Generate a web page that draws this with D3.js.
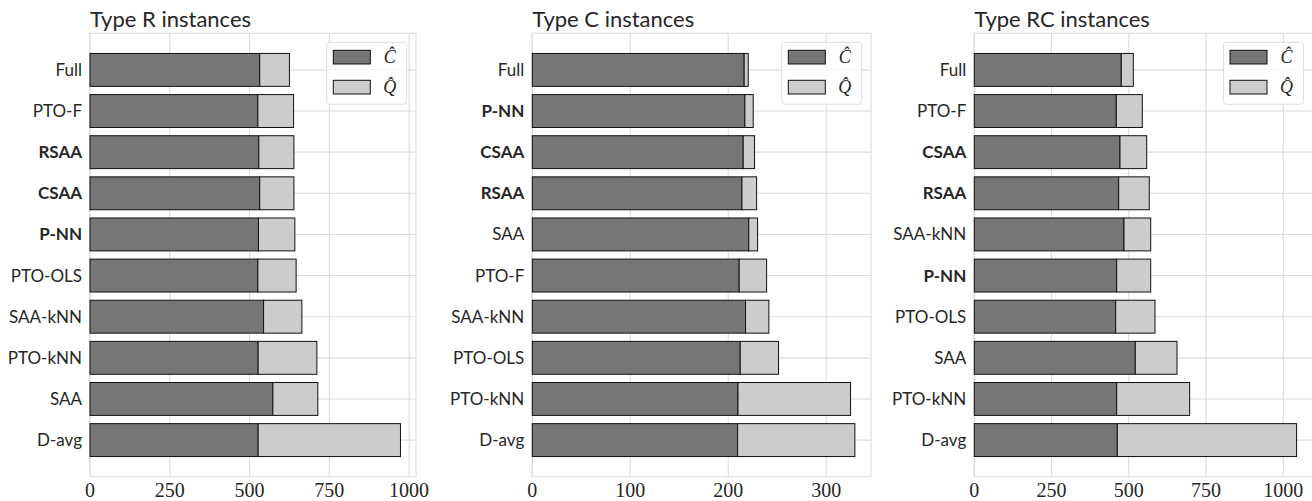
<!DOCTYPE html>
<html>
<head>
<meta charset="utf-8">
<script src="https://cdn.jsdelivr.net/npm/d3@7"></script>
<style>
  body { margin: 0; background: #fff; }
  svg { display: block; }
</style>
</head>
<body>
<div id="chart"></div>
<script>
// panel titles and tick labels
const panelTitles = ["Type R instances", "Type C instances", "Type RC instances"]
const ticksR = [0, 250, 500, 750, 1000]
const ticksC = [0, 100, 200, 300]
const ticksRC = [0, 250, 500, 750, 1000]
const boldMethods = ["RSAA", "CSAA", "P-NN"]

// Type R
const methodsR = ["Full", "PTO-F", "RSAA", "CSAA", "P-NN", "PTO-OLS", "SAA-kNN", "PTO-kNN", "SAA", "D-avg"]
const cHatR = [532, 526, 529, 532, 528, 526, 544, 527, 573, 527]
const qHatR = [93, 112, 110, 107, 114, 120, 120, 184, 141, 446]

// Type C
const methodsC = ["Full", "P-NN", "CSAA", "RSAA", "SAA", "PTO-F", "SAA-kNN", "PTO-OLS", "PTO-kNN", "D-avg"]
const cHatC = [216.3, 217, 215.3, 214, 221, 211.2, 217.7, 212.3, 210, 209.6]
const qHatC = [4.1, 8.5, 11.6, 15, 9, 28, 23.8, 39.1, 114.9, 119.7]

// Type RC
const methodsRC = ["Full", "PTO-F", "CSAA", "RSAA", "SAA-kNN", "P-NN", "PTO-OLS", "SAA", "PTO-kNN", "D-avg"]
const cHatRC = [475.7, 459.6, 471.5, 467.2, 484.5, 460.8, 457.6, 521, 460.8, 462.8]
const qHatRC = [38.9, 84.1, 86.4, 99.1, 86.4, 110.1, 127.2, 135, 236.2, 580.2]

const panels = [
    {title: panelTitles[0], methods: methodsR, c: cHatR, q: qHatR, ticks: ticksR, left: 90, width: 326},
    {title: panelTitles[1], methods: methodsC, c: cHatC, q: qHatC, ticks: ticksC, left: 532.3, width: 338.7},
    {title: panelTitles[2], methods: methodsRC, c: cHatRC, q: qHatRC, ticks: ticksRC, left: 974.3, width: 338.4},
]

const dimensions = {width: 1312, height: 501, top: 33.3, bottom: 476.7}
const darkColor = "#767676"
const lightColor = "#cccccc"
const gridColor = "#dcdcdc"
const sansFont = "Lato, 'Open Sans', sans-serif"
const serifFont = "'Liberation Serif', 'DejaVu Serif', serif"

const wrapper = d3.select("#chart")
    .append("svg")
    .attr("width", dimensions.width)
    .attr("height", dimensions.height)

panels.forEach(p => DrawPanel(p))

function DrawPanel(p) {
    const totals = p.c.map((d, i) => d + p.q[i])
    const xScale = d3.scaleLinear()
        .domain([0, d3.max(totals) * 1.05])
        .range([p.left, p.left + p.width])
    // 10 bars of height 0.8 with 5% margins on both sides
    const n = p.methods.length
    const pad = (n - 1 + 0.8) * 0.05
    const yScale = d3.scaleLinear()
        .domain([-0.4 - pad, n - 1 + 0.4 + pad])
        .range([dimensions.top, dimensions.bottom])
    const bandH = yScale(0.8) - yScale(0)

    const bounds = wrapper.append("g")

    // grid
    bounds.append("g").selectAll("line.v")
        .data(p.ticks)
        .join("line")
        .attr("x1", d => xScale(d)).attr("x2", d => xScale(d))
        .attr("y1", dimensions.top).attr("y2", dimensions.bottom)
        .attr("stroke", gridColor).attr("stroke-width", 1.1)
    bounds.append("g").selectAll("line.h")
        .data(d3.range(n))
        .join("line")
        .attr("x1", p.left).attr("x2", p.left + p.width)
        .attr("y1", d => yScale(d)).attr("y2", d => yScale(d))
        .attr("stroke", gridColor).attr("stroke-width", 1.1)

    // frame
    bounds.append("rect")
        .attr("x", p.left).attr("y", dimensions.top)
        .attr("width", p.width).attr("height", dimensions.bottom - dimensions.top)
        .attr("fill", "none").attr("stroke", gridColor).attr("stroke-width", 1.1)

    // stacked bars
    bounds.append("g").selectAll("rect")
        .data(p.c)
        .join("rect")
        .attr("x", xScale(0))
        .attr("y", (d, i) => yScale(i) - bandH / 2)
        .attr("width", d => xScale(d) - xScale(0))
        .attr("height", bandH)
        .attr("fill", darkColor).attr("stroke", "#111").attr("stroke-width", 1)
    bounds.append("g").selectAll("rect")
        .data(p.q)
        .join("rect")
        .attr("x", (d, i) => xScale(p.c[i]))
        .attr("y", (d, i) => yScale(i) - bandH / 2)
        .attr("width", (d, i) => xScale(p.c[i] + d) - xScale(p.c[i]))
        .attr("height", bandH)
        .attr("fill", lightColor).attr("stroke", "#111").attr("stroke-width", 1)

    // y labels
    bounds.append("g").selectAll("text")
        .data(p.methods)
        .join("text")
        .attr("x", p.left - 8)
        .attr("y", (d, i) => yScale(i))
        .attr("dy", "0.35em")
        .attr("text-anchor", "end")
        .attr("font-family", sansFont)
        .attr("font-size", 17)
        .attr("font-weight", d => boldMethods.includes(d) ? "bold" : "normal")
        .attr("fill", "#262626")
        .text(d => d)

    // x tick labels
    bounds.append("g").selectAll("text")
        .data(p.ticks)
        .join("text")
        .attr("x", d => xScale(d))
        .attr("y", 497)
        .attr("text-anchor", "middle")
        .attr("font-family", serifFont)
        .attr("font-size", 20)
        .attr("fill", "#262626")
        .text(d => d)

    // title
    bounds.append("text")
        .attr("x", p.left)
        .attr("y", 27)
        .attr("font-family", sansFont)
        .attr("font-size", 22)
        .attr("fill", "#262626")
        .text(p.title)

    // legend
    const lx = p.left + p.width - 9.3 - 80
    const ly = dimensions.top + 9
    const legend = bounds.append("g")
    legend.append("rect")
        .attr("x", lx).attr("y", ly).attr("width", 80).attr("height", 62).attr("rx", 3)
        .attr("fill", "#fff").attr("fill-opacity", 0.8)
        .attr("stroke", "#dddddd").attr("stroke-width", 1)
    const legendItems = [
        {label: "C\u0302", color: darkColor},
        {label: "Q\u0302", color: lightColor},
    ]
    legendItems.forEach((item, i) => {
        legend.append("rect")
            .attr("x", lx + 6.6).attr("y", ly + 8 + i * 30)
            .attr("width", 37).attr("height", 13.7)
            .attr("fill", item.color).attr("stroke", "#111").attr("stroke-width", 1)
        legend.append("text")
            .attr("x", lx + 63).attr("y", ly + 8 + i * 30 + 13)
            .attr("text-anchor", "middle")
            .attr("font-family", serifFont)
            .attr("font-style", "italic")
            .attr("font-size", 18)
            .attr("fill", "#262626")
            .text(item.label)
    })
}
</script>
</body>
</html>
